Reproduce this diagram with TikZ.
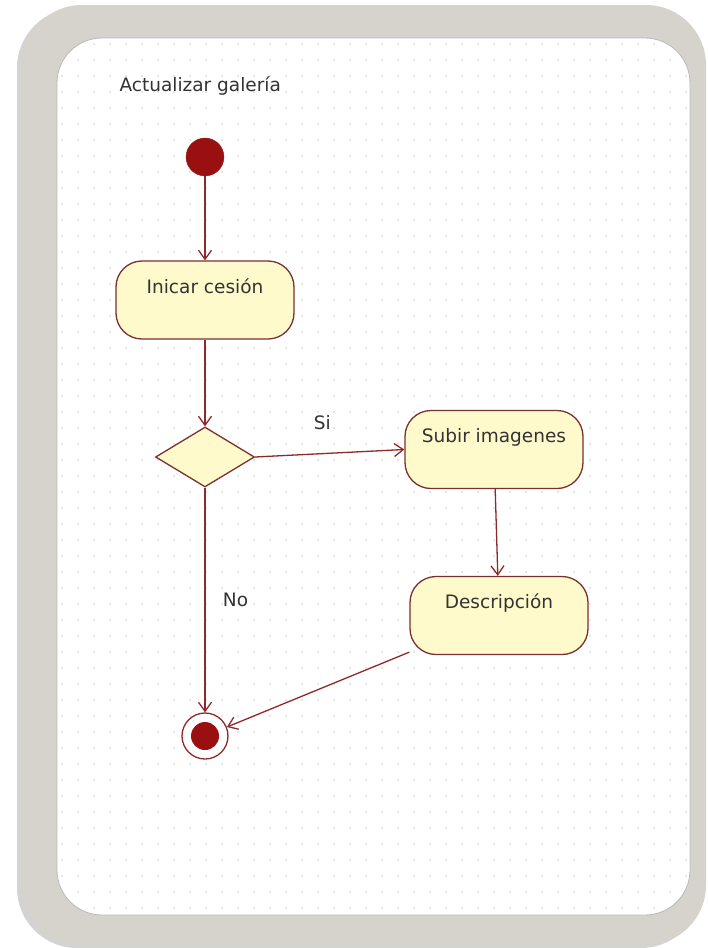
\documentclass[tikz,border=0pt]{standalone}
\usepackage{fontspec}
\setmainfont{DejaVu Sans}
\usetikzlibrary{shapes.geometric,arrows.meta,shadows}
\definecolor{frameGray}{HTML}{D5D3CB}
\definecolor{lineRed}{HTML}{8E2A2A}
\definecolor{dotRed}{HTML}{9A0F0F}
\definecolor{boxFill}{HTML}{FFFACB}
\definecolor{boxLine}{HTML}{7A3030}
\definecolor{labelGray}{HTML}{333333}
\tikzset{%
  >=latex, % option for nice arrows
  every node/.style={font=\fontsize{18.5}{22}\selectfont,text=labelGray},
  actbox/.style={draw=boxLine,fill=boxFill,line width=1.3pt,
    rounded corners=26pt,minimum width=178pt,inner sep=0pt,
    text height=32pt,text depth=46pt},
  decbox/.style={draw=boxLine,fill=boxFill,line width=1.3pt,diamond,
    aspect=1.65,minimum width=99pt,minimum height=60pt,inner sep=0pt},
  startdot/.style={circle,fill=dotRed,draw=lineRed,minimum size=38pt,inner sep=0pt},
  enddot/.style={circle,fill=white,draw=lineRed,line width=1.3pt,
    minimum size=46pt,inner sep=0pt},
  innerdot/.style={circle,fill=dotRed,minimum size=28pt,inner sep=0pt},
  flow/.style={draw=lineRed,line width=1.3pt,
    -{Straight Barb[length=9pt,width=13pt]}}
}
\begin{document}
\begin{tikzpicture}[x=1pt,y=-1pt]

%% page and frame

\useasboundingbox (0,0) rectangle (708,948);
\fill[frameGray,rounded corners=60pt,
  drop shadow={shadow xshift=-5pt,shadow yshift=-3pt,opacity=0.35}]
  (22,5) rectangle (706,945);
\fill[white,rounded corners=45pt] (57,38) rectangle (690,915);
\draw[gray!55,line width=0.8pt,rounded corners=45pt] (57,38) rectangle (690,915);

%% dotted grid

\begin{scope}
  \clip[rounded corners=45pt] (57,38) rectangle (690,915);
  \foreach \x in {62,78,...,690}
    \foreach \y in {44,60,...,915}
      \fill[gray!40] (\x,\y) circle (0.8pt);
\end{scope}

%% title and nodes

\node[anchor=west] (title) at (116,86) {Actualizar galería};

\node[startdot] (start) at (205,157) {};
\node[actbox] (inicar) at (205,300) {Inicar cesión};
\node[decbox] (dec) at (205,457) {};
\node[actbox] (subir) at (494,449.5) {Subir imagenes};
\node[actbox] (descr) at (499,615.5) {Descripción};
\node[enddot] (final) at (205,736) {};
\node[innerdot] (finaldot) at (final.center) {};

%% transitions

\draw[flow] (start) -- (inicar);
\draw[flow] (inicar) -- (dec);
\draw[flow] (dec.east) -- node[pos=0.45,above=20pt] (si) {Si} (subir.west);
\draw[flow] (subir) -- (descr);
\draw[flow] (dec.south) -- node[midway,right=14pt] (no) {No} (final);
\draw[flow] (descr) -- (final);

\end{tikzpicture}
\end{document}
